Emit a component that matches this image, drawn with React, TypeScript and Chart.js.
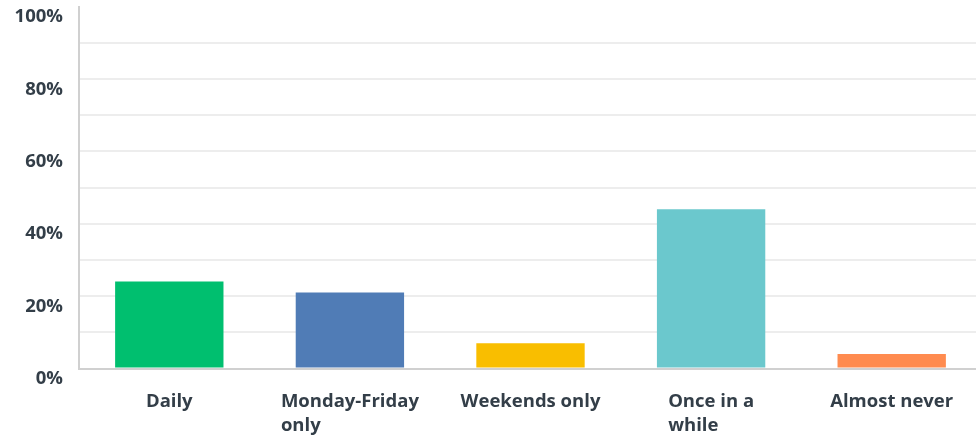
import React, { useEffect, useRef } from "react";
import Chart from "chart.js/auto";

const categories: (string | string[])[] = [
  "Daily",
  ["Monday-Friday", "only"],
  "Weekends only",
  ["Once in a", "while"],
  "Almost never",
];
const percentages: number[] = [24, 21, 7, 44, 4];
const barColors: string[] = ["#00bf6f", "#507cb6", "#f9be00", "#6bc8cd", "#ff8b4f"];
const yTicksShown: number[] = [0, 20, 40, 60, 80, 100];

const TEXT = "#333e48";
const FONT_FAMILY = "'Open Sans', sans-serif";

const xLabelPlugin = {
  id: "xLabelBlocks",
  afterDraw(chart: any) {
    const { ctx, chartArea } = chart;
    const xs = chart.scales.x;
    const labels = chart.data.labels as (string | string[])[];
    ctx.save();
    ctx.font = `700 18.5px ${FONT_FAMILY}`;
    ctx.fillStyle = TEXT;
    ctx.textAlign = "left";
    ctx.textBaseline = "middle";
    labels.forEach((lab, i) => {
      const lines = Array.isArray(lab) ? lab : [lab];
      const maxW = Math.max(...lines.map((l) => ctx.measureText(l).width));
      const cx = xs.getPixelForTick(i);
      lines.forEach((l, j) => {
        ctx.fillText(l, cx - maxW / 2, chartArea.bottom + 33 + j * 24);
      });
    });
    ctx.restore();
  },
};

export default function App() {
  const ref = useRef<HTMLCanvasElement | null>(null);
  useEffect(() => {
    if (!ref.current) return;
    const chart = new Chart(ref.current, {
      type: "bar",
      data: {
        labels: categories as any,
        datasets: [
          {
            data: percentages,
            backgroundColor: barColors,
            borderWidth: 0,
            barPercentage: 0.6,
            categoryPercentage: 1.0,
          },
        ],
      },
      options: {
        animation: false,
        responsive: false,
        maintainAspectRatio: false,
        layout: { padding: { top: 6.5, left: 0, right: 0, bottom: 0 } },
        plugins: { legend: { display: false }, tooltip: { enabled: false } },
        scales: {
          x: {
            grid: { display: false, drawTicks: false },
            border: { display: true, color: "#d0d0d0", width: 2 },
            ticks: { display: false },
            afterFit: (s: any) => {
              s.height = 74.5;
              s.paddingLeft = 0;
              s.paddingRight = 0;
            },
          },
          y: {
            min: 0,
            max: 100,
            grid: {
              drawTicks: false,
              lineWidth: 2,
              color: (c: any) =>
                c.tick && (c.tick.value === 100 || c.tick.value === 0) ? "rgba(0,0,0,0)" : "#ededed",
            },
            border: { display: true, color: "#d0d0d0", width: 2 },
            ticks: {
              stepSize: 10,
              padding: 16,
              labelOffset: 10.5,
              color: TEXT,
              font: { family: FONT_FAMILY, size: 18.5, weight: "700" as any },
              callback: (v: any) => (yTicksShown.includes(Number(v)) ? `${v}%` : ""),
            },
            afterFit: (s: any) => {
              s.width = 79;
              s.paddingTop = 0;
              s.paddingBottom = 0;
            },
          },
        },
      },
      plugins: [xLabelPlugin],
    });
    return () => chart.destroy();
  }, []);
  return (
    <div
      style={{
        position: "absolute",
        left: 0,
        top: 0,
        width: 976,
        height: 443,
        overflow: "hidden",
        background: "#fff",
      }}
    >
      <canvas ref={ref} width={982} height={443} style={{ width: 982, height: 443, display: "block" }} />
    </div>
  );
}
